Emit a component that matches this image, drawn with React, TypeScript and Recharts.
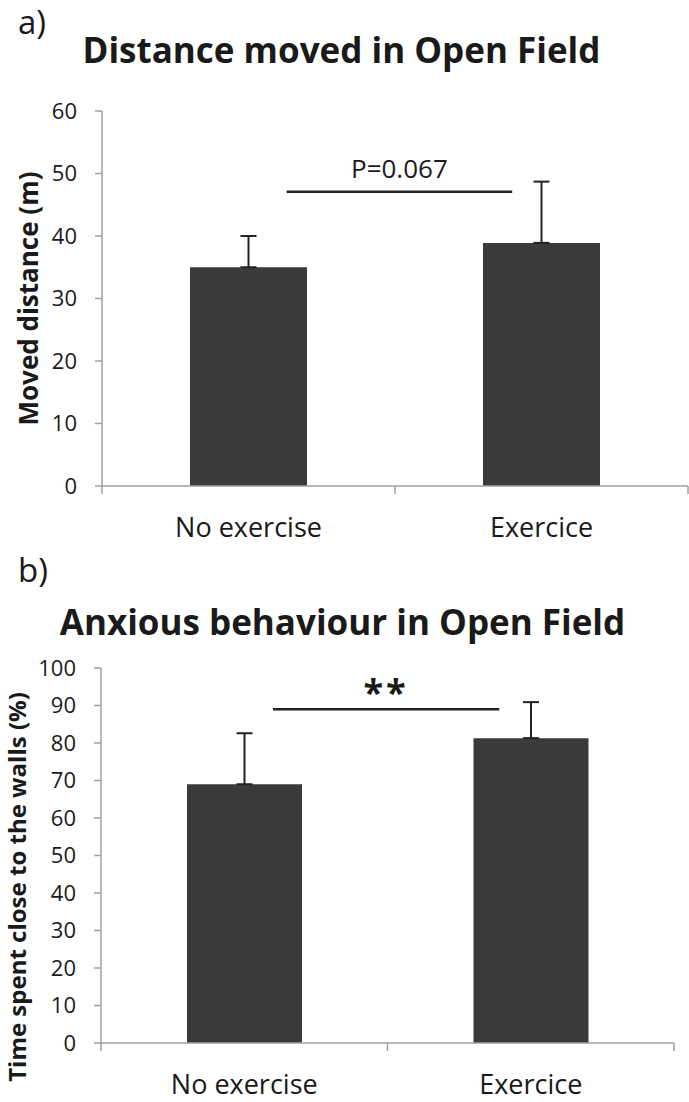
import { BarChart, Bar, XAxis, YAxis, ErrorBar, ReferenceLine } from 'recharts';

const groups = ['No exercise', 'Exercice'];
const distanceMean = [35, 38.9];
const distanceErr = [5, 9.8];
const wallsMean = [69, 81.3];
const wallsErr = [13.6, 9.6];
const distanceTicks = [0, 10, 20, 30, 40, 50, 60];
const wallsTicks = [0, 10, 20, 30, 40, 50, 60, 70, 80, 90, 100];
// significance bars: x in category units (0..2), y in data units
const distanceSig = { from: 0.63, to: 1.4, y: 47.1, label: 'P=0.067' };
const wallsSig = { from: 0.6, to: 1.39, y: 89, label: '**' };

const FONT = '"Open Sans", sans-serif';
const INK = '#1a1a1a';
const AXIS = '#a0a0a0';
const BAR = '#3a3a3a';

const makeTick = (band: number) => (props: any) => {
  const { x, y, payload, index } = props;
  return (
    <g>
      <line x1={x - band / 2} x2={x - band / 2} y1={y} y2={y + 8} stroke={AXIS} strokeWidth={1.5} />
      {index === groups.length - 1 && (
        <line x1={x + band / 2} x2={x + band / 2} y1={y} y2={y + 8} stroke={AXIS} strokeWidth={1.5} />
      )}
      <text x={x} y={y + 51} textAnchor="middle" fontSize={27} fill={INK} fontFamily={FONT}>
        {payload.value}
      </text>
    </g>
  );
};

// draws only the part of a full-width reference line between two category positions
const makeSigShape =
  (sig: { from: number; to: number; label: string }, fontSize: number, offset: number, bold: boolean) =>
  (props: any) => {
    const { x1, x2, y1 } = props;
    const unit = (x2 - x1) / groups.length;
    const a = x1 + unit * sig.from;
    const b = x1 + unit * sig.to;
    return (
      <g>
        <line x1={a} x2={b} y1={y1} y2={y1} stroke="#222" strokeWidth={2.5} />
        <text
          x={(a + b) / 2}
          y={y1 - offset}
          textAnchor="middle"
          fontSize={fontSize}
          fontWeight={bold ? 700 : 400}
          letterSpacing={bold ? 3 : 0}
          fill={INK}
          fontFamily={FONT}
        >
          {sig.label}
        </text>
      </g>
    );
  };

interface PanelProps {
  means: number[];
  errs: number[];
  ticks: number[];
  sig: { from: number; to: number; y: number; label: string };
  height: number;
  marginTop: number;
  marginRight: number;
  axisWidth: number;
  axisHeight: number;
  barSize: number;
  sigFont: number;
  sigOffset: number;
  sigBold: boolean;
}

function Panel(p: PanelProps) {
  const data = groups.map((g, i) => ({ group: g, mean: p.means[i], err: [0, p.errs[i]] }));
  const band = (689 - p.axisWidth - p.marginRight) / groups.length;
  return (
    <BarChart
      width={689}
      height={p.height}
      data={data}
      margin={{ top: p.marginTop, right: p.marginRight, left: 0, bottom: 0 }}
    >
      <XAxis
        dataKey="group"
        height={p.axisHeight}
        tickSize={0}
        tickMargin={0}
        tickLine={false}
        axisLine={{ stroke: AXIS, strokeWidth: 1.5 }}
        tick={makeTick(band)}
        interval={0}
      />
      <YAxis
        width={p.axisWidth}
        domain={[0, p.ticks[p.ticks.length - 1]]}
        ticks={p.ticks}
        interval={0}
        tickSize={7}
        tickMargin={18}
        tickLine={{ stroke: AXIS, strokeWidth: 1.5 }}
        axisLine={{ stroke: AXIS, strokeWidth: 1.5 }}
        tick={{ fontSize: 22, fill: INK, fontFamily: FONT }}
      />
      <Bar dataKey="mean" fill={BAR} barSize={p.barSize} isAnimationActive={false}>
        <ErrorBar dataKey="err" direction="y" width={8} stroke="#222" strokeWidth={2} isAnimationActive={false} />
      </Bar>
      <ReferenceLine y={p.sig.y} shape={makeSigShape(p.sig, p.sigFont, p.sigOffset, p.sigBold)} />
    </BarChart>
  );
}

export default function App() {
  return (
    <div style={{ position: 'absolute', left: 0, top: 0, width: 689, height: 1102, background: '#fff', overflow: 'hidden' }}>
      <div style={{ position: 'absolute', left: 0, top: 0 }}>
        <Panel
          means={distanceMean}
          errs={distanceErr}
          ticks={distanceTicks}
          sig={distanceSig}
          height={550}
          marginTop={111}
          marginRight={1}
          axisWidth={102}
          axisHeight={64}
          barSize={117}
          sigFont={26}
          sigOffset={14}
          sigBold={false}
        />
      </div>
      <div style={{ position: 'absolute', left: 0, top: 560 }}>
        <Panel
          means={wallsMean}
          errs={wallsErr}
          ticks={wallsTicks}
          sig={wallsSig}
          height={542}
          marginTop={108}
          marginRight={15}
          axisWidth={101}
          axisHeight={59}
          barSize={115}
          sigFont={36}
          sigOffset={4}
          sigBold={true}
        />
      </div>
      <svg width={689} height={1102} style={{ position: 'absolute', left: 0, top: 0, pointerEvents: 'none' }}>
        <g fontFamily={FONT} fill={INK}>
          <text x={18} y={34} fontSize={33}>a)</text>
          <text x={341.5} y={63} fontSize={35} fontWeight={700} textAnchor="middle">
            Distance moved in Open Field
          </text>
          <text
            x={28}
            y={298.5}
            fontSize={26}
            fontWeight={700}
            textAnchor="middle"
            dominantBaseline="central"
            transform="rotate(-90 28 298.5)"
          >
            Moved distance (m)
          </text>
          <text x={18} y={582} fontSize={33}>b)</text>
          <text x={342.5} y={635} fontSize={35} fontWeight={700} textAnchor="middle">
            Anxious behaviour in Open Field
          </text>
          <text
            x={16}
            y={887}
            fontSize={24}
            fontWeight={700}
            textAnchor="middle"
            dominantBaseline="central"
            transform="rotate(-90 16 887)"
          >
            Time spent close to the walls (%)
          </text>
        </g>
      </svg>
    </div>
  );
}
